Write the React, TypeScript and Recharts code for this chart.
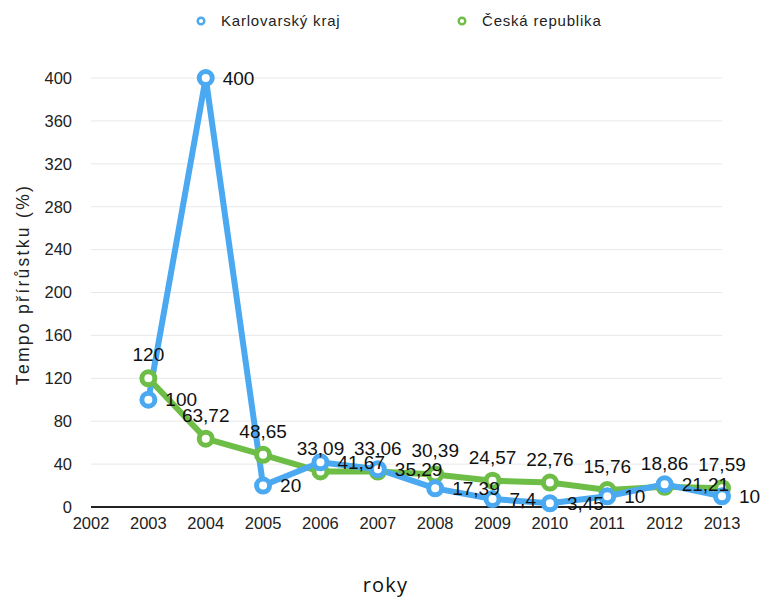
import { LineChart, Line, XAxis, YAxis, CartesianGrid, Legend, LabelList } from "recharts";

const years = [2003, 2004, 2005, 2006, 2007, 2008, 2009, 2010, 2011, 2012, 2013];
const karlovarskyKraj = [100, 400, 20, 41.67, 35.29, 17.39, 7.4, 3.45, 10, 21.21, 10];
const ceskaRepublika = [120, 63.72, 48.65, 33.09, 33.06, 30.39, 24.57, 22.76, 15.76, 18.86, 17.59];
const xTicks = [2002, 2003, 2004, 2005, 2006, 2007, 2008, 2009, 2010, 2011, 2012, 2013];
const yTicks = [0, 40, 80, 120, 160, 200, 240, 280, 320, 360, 400];

const BLUE = "#4aa9f0";
const GREEN = "#6dbd47";
const FONT = "'Liberation Sans', Arial, sans-serif";

const data = years.map((rok, i) => ({
    rok,
    kraj: karlovarskyKraj[i],
    cr: ceskaRepublika[i],
}));

// czech decimal comma
const fmt = (v: any) => String(v).replace(".", ",");

const LegendContent = ({ payload }: any) => (
    <div style={{ display: "flex", paddingLeft: 196, fontFamily: FONT, fontSize: 15, letterSpacing: 0.8, color: "#222" }}>
        {(payload || []).map((p: any) => (
            <div key={p.value} style={{ width: 261, display: "flex", alignItems: "center" }}>
                <svg width={10} height={10} style={{ marginRight: 15 }}>
                    <circle cx={5} cy={5} r={3.3} fill="#fff" stroke={p.color} strokeWidth={2.4} />
                </svg>
                <span>{p.value}</span>
            </div>
        ))}
    </div>
);

const YTitle = ({ viewBox }: any) => {
    const x = viewBox.x + 23;
    const y = viewBox.y + viewBox.height / 2 - 8;
    return (
        <text
            x={x}
            y={y}
            transform={`rotate(-90 ${x} ${y})`}
            textAnchor="middle"
            dominantBaseline="central"
            fontFamily={FONT}
            fontSize={17.5}
            letterSpacing={2.3}
            fill="#222"
        >
            Tempo přírůstku (%)
        </text>
    );
};

const XTitle = ({ viewBox }: any) => (
    <text
        x={viewBox.x + viewBox.width / 2 - 21}
        y={viewBox.y + 85}
        textAnchor="middle"
        fontFamily="'Open Sans', sans-serif"
        fontSize={20}
        letterSpacing={1.2}
        fill="#111"
    >
        roky
    </text>
);

export default function App() {
    return (
        <div style={{ position: "absolute", left: 0, top: 0, width: 764, height: 600, background: "#fff" }}>
            <LineChart width={764} height={600} data={data} margin={{ top: 78, right: 42, bottom: 0, left: 0 }}>
                <CartesianGrid vertical={false} stroke="#e8e8e8" strokeWidth={1} />
                <XAxis
                    dataKey="rok"
                    type="number"
                    domain={[2002, 2013]}
                    ticks={xTicks}
                    tickLine={false}
                    tickSize={0}
                    tickMargin={10}
                    height={93}
                    axisLine={{ stroke: "#222", strokeWidth: 2 }}
                    tick={{ fill: "#222", fontSize: 16.5, fontFamily: FONT }}
                    label={{ content: XTitle }}
                />
                <YAxis
                    domain={[0, 400]}
                    ticks={yTicks}
                    width={91}
                    tickLine={false}
                    axisLine={false}
                    tickSize={0}
                    tickMargin={19}
                    tick={{ fill: "#222", fontSize: 16.5, fontFamily: FONT }}
                    label={{ content: YTitle }}
                />
                <Legend
                    layout="horizontal"
                    verticalAlign="middle"
                    align="center"
                    wrapperStyle={{ top: 12, left: 0, width: 764 }}
                    content={LegendContent}
                />
                <Line
                    dataKey="cr"
                    name="Česká republika"
                    stroke={GREEN}
                    strokeWidth={6}
                    dot={{ r: 6.5, strokeWidth: 5, fill: "#fff", stroke: GREEN }}
                    activeDot={false}
                    isAnimationActive={false}
                >
                    <LabelList
                        dataKey="cr"
                        position="top"
                        offset={17}
                        formatter={fmt}
                        fill="#111"
                        fontSize={19}
                        fontFamily={FONT}
                    />
                </Line>
                <Line
                    dataKey="kraj"
                    name="Karlovarský kraj"
                    stroke={BLUE}
                    strokeWidth={6}
                    dot={{ r: 6.5, strokeWidth: 5, fill: "#fff", stroke: BLUE }}
                    activeDot={false}
                    isAnimationActive={false}
                >
                    <LabelList
                        dataKey="kraj"
                        position="right"
                        offset={17}
                        formatter={fmt}
                        fill="#111"
                        fontSize={19}
                        fontFamily={FONT}
                    />
                </Line>
            </LineChart>
        </div>
    );
}
